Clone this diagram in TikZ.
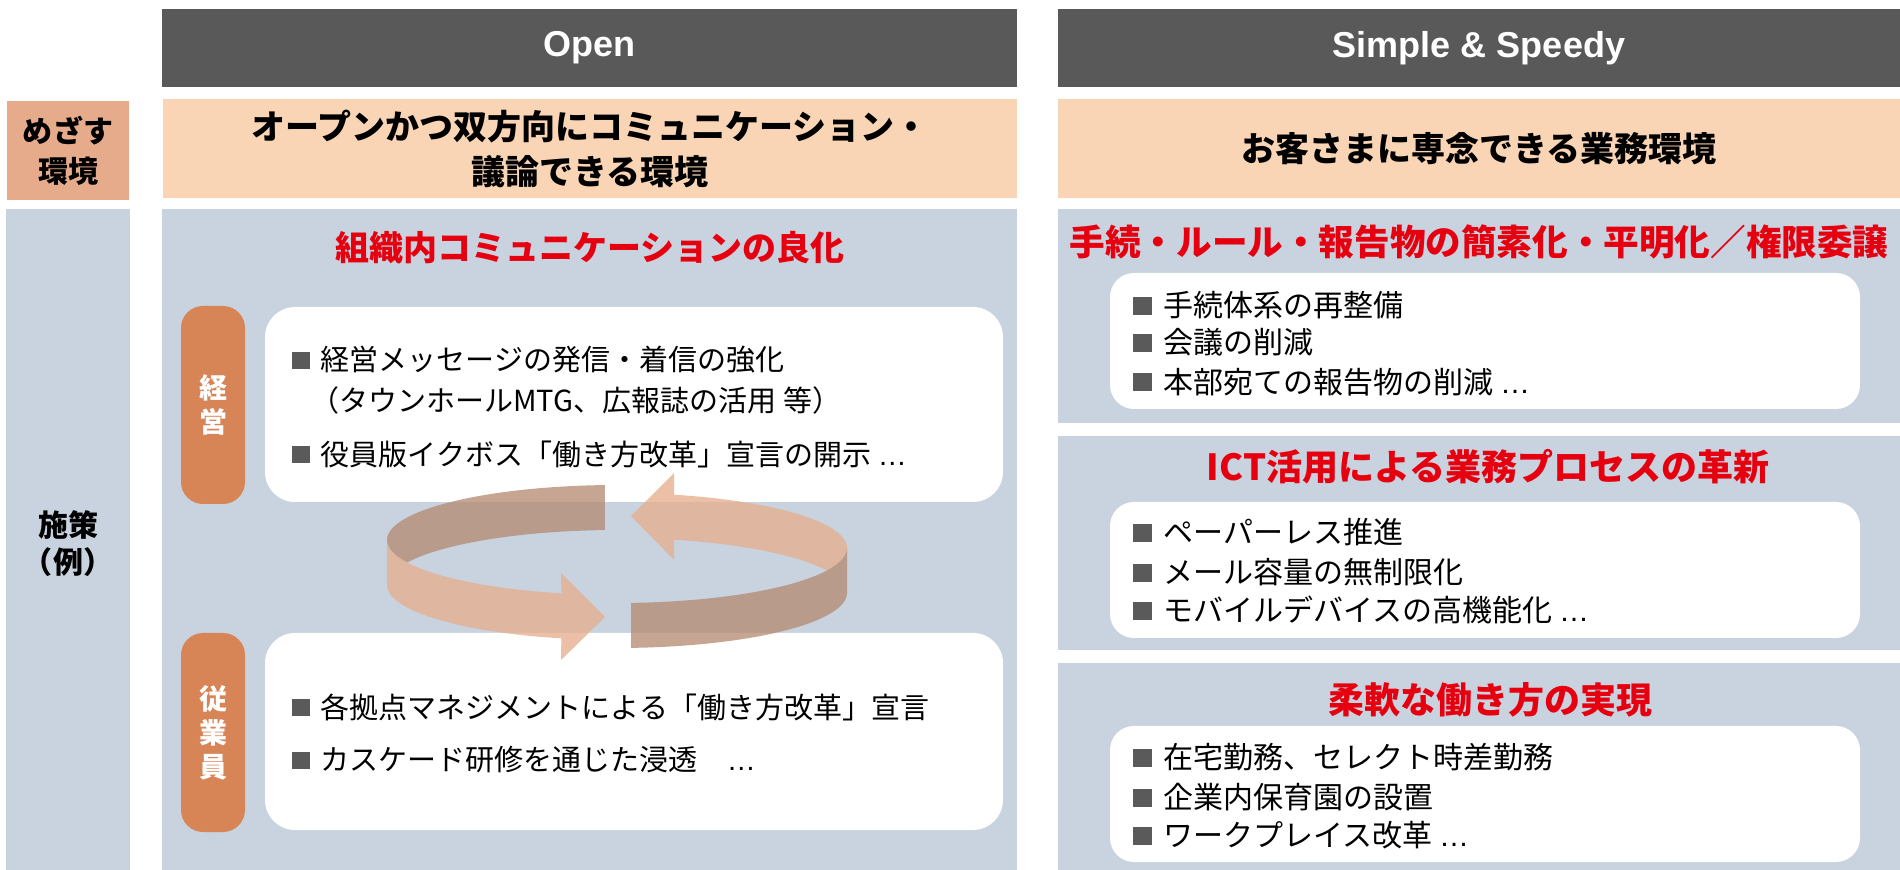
\documentclass[tikz,border=0pt]{standalone}
\usepackage{fontspec}
\setmainfont{Noto Sans CJK JP}
\newfontfamily\latinsans{Liberation Sans}
\definecolor{hdrgrey}{HTML}{595959}
\definecolor{goalpeach}{HTML}{FAD5B5}
\definecolor{goallabel}{HTML}{E6AB8B}
\definecolor{panelblue}{HTML}{C8D3DF}
\definecolor{pillorange}{HTML}{D78456}
\definecolor{titlered}{HTML}{E6000F}
\definecolor{bulletgrey}{HTML}{5A5A5A}
\definecolor{ringdark}{HTML}{B58B73}
\definecolor{ringlight}{HTML}{E6AE8D}
\newcommand{\itembullet}{\makebox[1em][l]{\textcolor{bulletgrey}{\rule[0.06em]{0.62em}{0.6em}}}}
\newcommand{\dotsend}{{\latinsans …}}
\tikzset{
  cellbox/.style={rectangle, inner sep=0pt, outer sep=0pt, draw=none},
  hdr/.style={cellbox, fill=hdrgrey, text=white, font=\latinsans\bfseries\fontsize{18}{22}\selectfont},
  goal/.style={cellbox, fill=goalpeach, font=\bfseries\fontsize{17}{22.5}\selectfont, align=center},
  lbl/.style={cellbox, fill=goallabel, font=\bfseries\fontsize{15}{20}\selectfont, align=center},
  panel/.style={cellbox, fill=panelblue},
  card/.style={cellbox, fill=white, rounded corners=15pt},
  cardR/.style={cellbox, fill=white, rounded corners=12pt},
  pill/.style={cellbox, fill=pillorange, rounded corners=11pt, text=white, font=\bfseries\fontsize{14}{17}\selectfont, align=center},
  redtitle/.style={inner sep=0pt, text=titlered, font=\bfseries\fontsize{18}{22}\selectfont},
  itemL/.style={anchor=west, inner sep=0pt, font=\fontsize{14.5}{18}\selectfont},
  itemR/.style={anchor=west, inner sep=0pt, font=\fontsize{15}{18}\selectfont},
  ringgroup/.style={transparency group, opacity=0.77},
}
\begin{document}
\begin{tikzpicture}[x=0.5pt,y=-0.5pt]
\fill[white] (0,0) rectangle (1900,870);
% headers
\node[hdr, minimum width=427.5pt, minimum height=39pt] (hdrL) at (589.5,48) {Open};
\node[hdr, minimum width=421pt, minimum height=39pt] (hdrR) at (1479,48) {Simple \& Speedy};
% goal row
\node[lbl, minimum width=61pt, minimum height=49.5pt] (goalLbl) at (68,150.5) {めざす\\環境};
\node[goal, minimum width=427pt, minimum height=49.5pt] (goalL) at (590,148.5) {オープンかつ双方向にコミュニケーション・\\議論できる環境};
\node[goal, minimum width=421pt, minimum height=49.5pt] (goalR) at (1479,148.5) {お客さまに専念できる業務環境};
% measures label column
\node[panel, minimum width=62pt, minimum height=330.5pt] (measLbl) at (68,539.5) {};
\node[inner sep=0pt, font=\bfseries\fontsize{15}{18.5}\selectfont, align=center] (measTxt) at (68,543.5) {施策\\（例）};
% left panel
\node[panel, minimum width=427.5pt, minimum height=330.5pt] (panelL) at (589.5,539.5) {};
\node[redtitle, font=\bfseries\fontsize{17}{22}\selectfont] (titleL) at (590,248) {組織内コミュニケーションの良化};
\node[card, minimum width=369pt, minimum height=97.5pt] (cardTop) at (634,404.5) {};
\node[card, minimum width=369pt, minimum height=98.5pt] (cardBot) at (634,731.5) {};
\node[pill, minimum width=32pt, minimum height=99pt] (pillMgmt) at (213,405) {経\\営};
\node[pill, minimum width=32pt, minimum height=99.5pt] (pillStaff) at (213,732.5) {従\\業\\員};
\node[itemL] (l1) at (291.5,360) {\itembullet 経営メッセージの発信・着信の強化};
\node[itemL] (l1b) at (310,400) {（タウンホールMTG、広報誌の活用 等）};
\node[itemL] (l2) at (291.5,454) {\itembullet 役員版イクボス「働き方改革」宣言の開示 \dotsend};
\node[itemL] (l3) at (291.5,707) {\itembullet 各拠点マネジメントによる「働き方改革」宣言};
\node[itemL] (l4) at (291.5,760) {\itembullet カスケード研修を通じた浸透　\dotsend};
% cycle ring: arrow A (back-left -> front, head pointing right)
\begin{scope}[ringgroup]
\fill[ringdark] plot[domain=267:180,samples=40,variable=\t] ({617+230*cos(\t)},{540+55*sin(\t)})
  -- plot[domain=180:267,samples=40,variable=\t] ({617+230*cos(\t)},{585+55*sin(\t)}) -- cycle;
\fill[ringlight] plot[domain=180:104,samples=40,variable=\t] ({617+230*cos(\t)},{540+55*sin(\t)})
  -- (561,573) -- (605,617) -- (561,660)
  -- plot[domain=104:180,samples=40,variable=\t] ({617+230*cos(\t)},{585+55*sin(\t)}) -- cycle;
\end{scope}
% arrow B (front-right -> back, head pointing left)
\begin{scope}[ringgroup]
\fill[ringlight] plot[domain=0:-75.6,samples=40,variable=\t] ({617+230*cos(\t)},{548+55*sin(\t)})
  -- (674,473) -- (631,516) -- (674,560)
  -- plot[domain=-75.6:0,samples=40,variable=\t] ({617+230*cos(\t)},{593+55*sin(\t)}) -- cycle;
\fill[ringdark] plot[domain=86.5:0,samples=40,variable=\t] ({617+230*cos(\t)},{548+55*sin(\t)})
  -- plot[domain=0:86.5,samples=40,variable=\t] ({617+230*cos(\t)},{593+55*sin(\t)}) -- cycle;
\end{scope}
% right panels
\node[panel, minimum width=421pt, minimum height=107pt] (panelR1) at (1479,316) {};
\node[panel, minimum width=421pt, minimum height=107pt] (panelR2) at (1479,543) {};
\node[panel, minimum width=421pt, minimum height=103.5pt] (panelR3) at (1479,766.5) {};
\node[redtitle, font=\bfseries\fontsize{17.8}{22}\selectfont] (titleR1) at (1479,242) {手続・ルール・報告物の簡素化・平明化／権限委譲};
\node[redtitle] (titleR2) at (1488,467) {ICT活用による業務プロセスの革新};
\node[redtitle] (titleR3) at (1490,700) {柔軟な働き方の実現};
\node[cardR, minimum width=375pt, minimum height=68pt] (cardR1) at (1485,341) {};
\node[cardR, minimum width=375pt, minimum height=68pt] (cardR2) at (1485,570) {};
\node[cardR, minimum width=375pt, minimum height=68pt] (cardR3) at (1485,794) {};
\node[itemR] (r11) at (1133,305) {\itembullet 手続体系の再整備};
\node[itemR] (r12) at (1133,342) {\itembullet 会議の削減};
\node[itemR] (r13) at (1133,382) {\itembullet 本部宛ての報告物の削減 \dotsend};
\node[itemR] (r21) at (1133,532) {\itembullet ペーパーレス推進};
\node[itemR] (r22) at (1133,572) {\itembullet メール容量の無制限化};
\node[itemR] (r23) at (1133,610) {\itembullet モバイルデバイスの高機能化 \dotsend};
\node[itemR] (r31) at (1133,757) {\itembullet 在宅勤務、セレクト時差勤務};
\node[itemR] (r32) at (1133,797) {\itembullet 企業内保育園の設置};
\node[itemR] (r33) at (1133,835) {\itembullet ワークプレイス改革 \dotsend};
\end{tikzpicture}
\end{document}
